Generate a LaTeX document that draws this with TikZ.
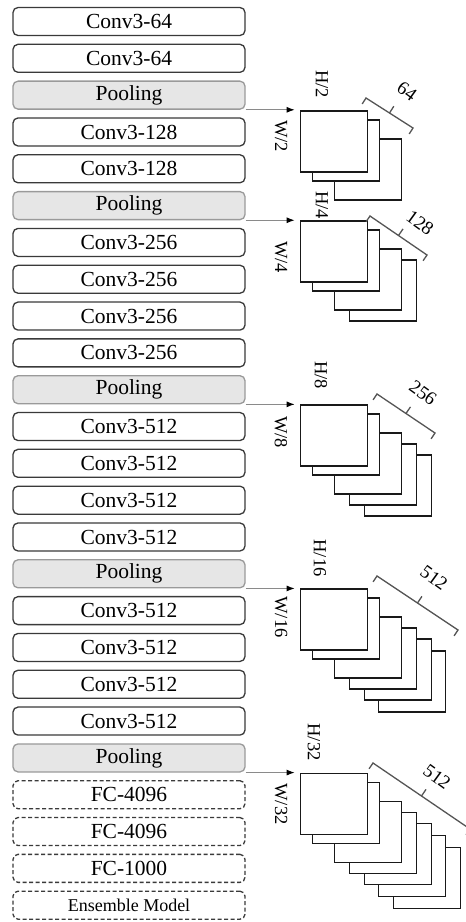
\documentclass[tikz,border=0pt]{standalone}
\usepackage{fontspec}
\setmainfont{Liberation Serif}
\usetikzlibrary{arrows.meta,calc}
\definecolor{boxline}{HTML}{3A3A3A}
\definecolor{poolline}{HTML}{9A9A9A}
\definecolor{poolfill}{HTML}{E6E6E6}
\definecolor{arrowgray}{HTML}{8A8A8A}
\definecolor{bracegray}{HTML}{555555}
\begin{document}
\begin{tikzpicture}[x=1pt,y=-1pt,
  layer/.style={draw=boxline, line width=1.3pt, rounded corners=5pt, minimum width=232pt, minimum height=28pt, inner sep=0pt, font=\fontsize{21.5}{22}\selectfont, fill=white},
  pool/.style={layer, draw=poolline, fill=poolfill},
  fc/.style={layer, dash pattern=on 4pt off 2.5pt},
  fce/.style={fc, font=\fontsize{18}{19}\selectfont},
  fmap/.style={draw=black!90, line width=1.8pt, fill=white, minimum width=67pt, minimum height=61pt, inner sep=0pt, anchor=north west},
  dimlab/.style={rotate=-90, font=\fontsize{18.5}{19}\selectfont, inner sep=0pt},
  chlab/.style={rotate=-36, font=\fontsize{19}{20}\selectfont, inner sep=0pt},
  feed/.style={draw=arrowgray, line width=1pt, -{Latex[length=8pt,width=6pt,color=black]}, shorten >=5pt},
  brk/.style={draw=bracegray, line width=1.3pt, line join=miter}
]
\useasboundingbox (0,0) rectangle (466,922);
\clip (0,0) rectangle (466,922);

% layer column
\foreach \s/\t [count=\i from 0] in {
  layer/Conv3-64, layer/Conv3-64, pool/Pooling,
  layer/Conv3-128, layer/Conv3-128, pool/Pooling,
  layer/Conv3-256, layer/Conv3-256, layer/Conv3-256, layer/Conv3-256, pool/Pooling,
  layer/Conv3-512, layer/Conv3-512, layer/Conv3-512, layer/Conv3-512, pool/Pooling,
  layer/Conv3-512, layer/Conv3-512, layer/Conv3-512, layer/Conv3-512, pool/Pooling,
  fc/FC-4096, fc/FC-4096, fc/FC-1000, fce/Ensemble Model}
  {\node[\s] (b\i) at (129, {21.5+36.82*\i}) {\t};}

% feature map stacks
\foreach \p/\n/\k in {2/3/1, 5/4/2, 10/5/3, 15/6/4, 20/7/5} {
  \coordinate (o\k) at ($(b\p.south east)+(54,0)$);
  \foreach \j/\dx/\dy in {7/93/74, 6/78/62, 5/64/50, 4/49/39, 3/34/28, 2/12/9, 1/0/0} {
    \ifnum\j>\n\relax\else
      \node[fmap] (m\k-\j) at ($(o\k)+(\dx,\dy)$) {};
    \fi
  }
  \draw[feed] (b\p.south east) -- (m\k-1.north west);
}

% brackets with channel counts
\foreach \k/\ax/\ay/\bx/\by/\lx/\ly/\lab in {
  1/366/98/413/128/407/91/64,
  2/370/216/427/255/420/223/128,
  3/377/394/435/433/423/393/256,
  4/377/576/458/630/434/578/512,
  5/373/763/470/829/437/777/512} {
  \coordinate (A\k) at (\ax,\ay);
  \coordinate (B\k) at (\bx,\by);
  \coordinate (M\k) at ($(A\k)!0.5!(B\k)$);
  \draw[brk] ($(A\k)!7pt!-90:(B\k)$) -- (A\k) -- (B\k) -- ($(B\k)!7pt!90:(A\k)$);
  \draw[brk] (M\k) -- ($(M\k)!8pt!90:(B\k)$);
  \node[chlab] (c\k) at (\lx,\ly) {\lab};
}

% spatial size labels
\foreach \k/\hx/\hy/\wx/\wy/\d in {
  1/322/84/281/136/2, 2/322/205/281/257/4, 3/321/375/281/432/8,
  4/320/558/281/617/16, 5/314/742/281/804/32} {
  \node[dimlab] (h\k) at (\hx,\hy) {H/\d};
  \node[dimlab] (w\k) at (\wx,\wy) {W/\d};
}
\end{tikzpicture}
\end{document}
